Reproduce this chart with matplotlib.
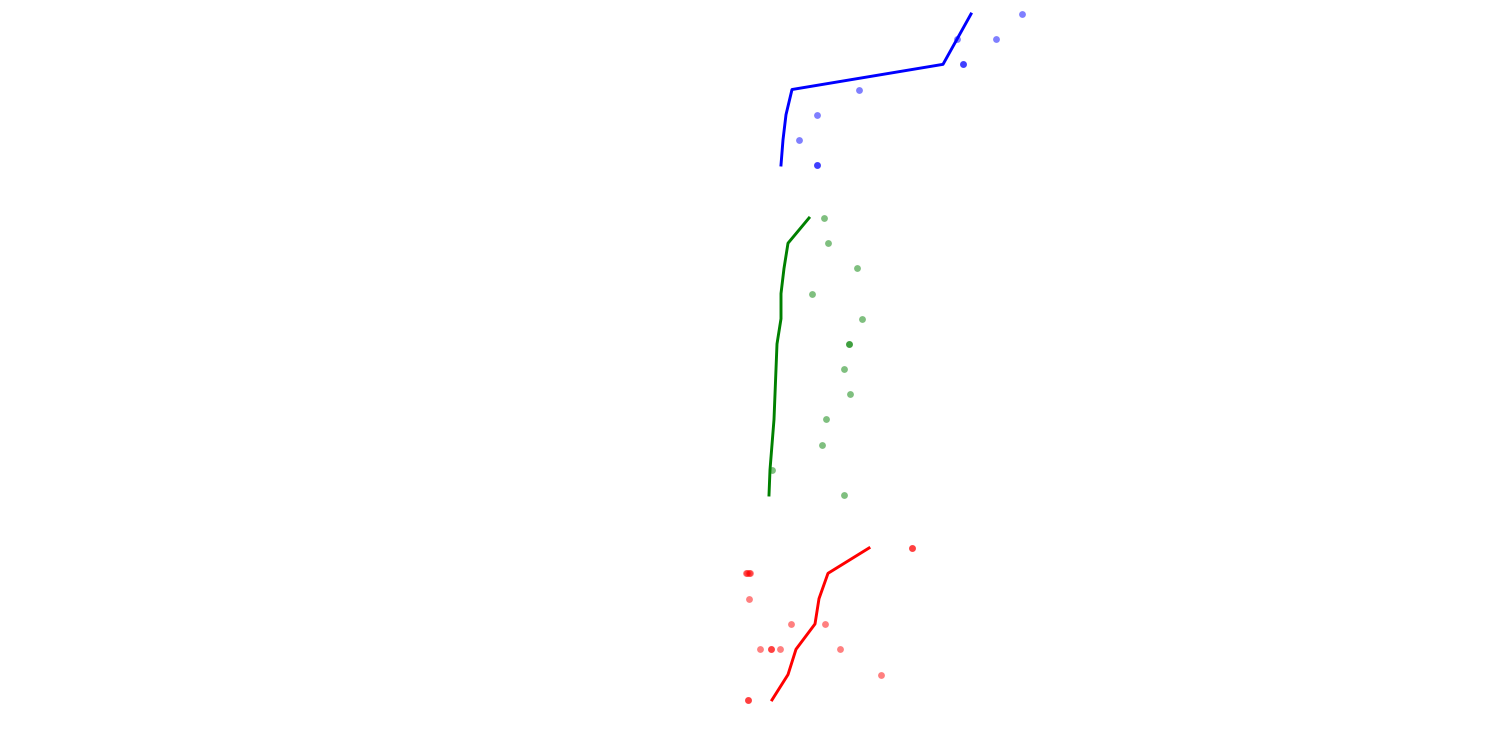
import numpy as np
import matplotlib
matplotlib.use('Agg')
import matplotlib.pyplot as plt

# trend line per row, top row first
blue_line = [971, 957, 943, 792, 786, 783, 781]
green_line = [809, 788, 784, 781, 781, 777, 776, 775, 774, 772, 770, 769]
red_line = [869, 828, 819, 815, 796, 788, 772]

# individual observations (row index, value); repeats show up darker
blue_dot_rows = [0, 1, 1, 2, 2, 3, 4, 5, 6, 6]
blue_dot_x = [1022, 996, 957, 963, 963, 859, 817, 799, 817, 817]

green_dot_rows = [0, 1, 2, 3, 4, 5, 5, 6, 7, 8, 9, 10, 11]
green_dot_x = [824, 828, 857, 812, 862, 849, 849, 844, 850, 826, 822, 772, 844]

red_dot_rows = [0, 0, 1, 1, 1, 1, 2, 3, 3, 4, 4, 4, 4, 4, 5, 6, 6]
red_dot_x = [912, 912, 746, 747, 749, 750, 749, 791, 825, 760, 771, 771, 780, 840, 881, 748, 748]

GROUPS = [
    ('blue', blue_line, blue_dot_rows, blue_dot_x),
    ('green', green_line, green_dot_rows, green_dot_x),
    ('red', red_line, red_dot_rows, red_dot_x),
]
# axes rectangles in figure fractions (left, bottom, width, height)
RECTS = [
    [0, 0.7632, 1, 0.2349],
    [0, 0.3232, 1, 0.4029],
    [0, 0.0499, 1, 0.2363],
]

fig = plt.figure(figsize=(15, 7.5), dpi=100)

for (color, line, rows, xs), rect in zip(GROUPS, RECTS):
    ax = fig.add_axes(rect)
    n = len(line)
    ax.scatter(xs, rows, s=24, color=color, alpha=0.5, lw=0, zorder=2)
    ax.plot(line, np.arange(n), color=color, lw=2.1, zorder=3)
    ax.set_xlim(0, 1500)
    ax.set_ylim(n - 0.5, -0.5)
    ax.axis('off')

fig.savefig('out.png', dpi=100, facecolor='white')
plt.close(fig)
